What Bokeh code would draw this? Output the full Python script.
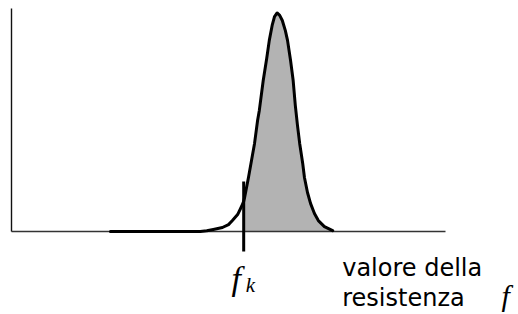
from bokeh.plotting import figure
from bokeh.models import Range1d, Label
from bokeh.embed import file_html
from bokeh.resources import INLINE

# --- data (x = resistance value, y = probability density) ---
curve_x = [22.8, 43.5, 45.0, 46.5, 48.6, 50.0, 50.9, 52.1, 53.0, 53.5, 53.7, 54.6, 55.3,
           56.0, 56.7, 57.1, 58.0, 58.8, 59.4, 60.1, 60.6, 61.2, 61.8, 62.4, 63.1, 63.6,
           64.3, 64.9, 65.4, 65.9, 66.4, 67.1, 67.5, 68.2, 68.9, 69.8, 70.7, 72.1, 74.0]
curve_y = [0.0, 0.0, 0.3, 0.9, 1.8, 3.1, 4.9, 7.6, 11.2, 13.5, 15.2, 24.2, 31.8,
           39.5, 49.8, 54.3, 67.7, 77.6, 85.7, 92.8, 96.4, 98.0, 96.9, 94.6, 90.1, 85.7,
           76.7, 67.7, 56.5, 47.5, 39.5, 30.5, 24.2, 17.5, 12.6, 8.1, 4.9, 2.2, 0.4]
fk = 53.5                 # characteristic value f_k
fill_tail_x = 75.1        # grey area ends slightly past the curve
fk_mark = (-9.0, 22.4)    # vertical extent of the f_k mark
x_axis_extent = (0.0, 100.0)
y_axis_extent = (0.0, 100.0)
x_label_lines = ["valore della", "resistenza"]
x_symbol = "f"
fk_symbol = ("f", "k")

p = figure(width=518, height=314, output_backend="svg", toolbar_location=None,
           x_range=Range1d(-2.535, 116.82), y_range=Range1d(-37.22, 103.59),
           min_border=0)
p.outline_line_color = None
p.grid.visible = False
p.axis.visible = False
p.background_fill_color = "white"
p.border_fill_color = "white"

# shaded area to the right of f_k
i0 = curve_x.index(fk)
fx = curve_x[i0:] + [fill_tail_x]
fy = curve_y[i0:] + [0.0]
p.varea(x=fx, y1=[0.0] * len(fx), y2=fy, fill_color="#b3b3b3")

# axis lines
p.segment(x0=[x_axis_extent[0]], y0=[0.0], x1=[x_axis_extent[1]], y1=[0.0],
          line_color="#333333", line_width=1.3)
p.segment(x0=[0.0], y0=[y_axis_extent[0]], x1=[0.0], y1=[y_axis_extent[1]],
          line_color="#111111", line_width=1.4)

# density curve
p.line(curve_x, curve_y, line_color="black", line_width=3, line_join="round", line_cap="round")

# f_k mark
p.segment(x0=[fk], y0=[fk_mark[0]], x1=[fk], y1=[fk_mark[1]], line_color="black", line_width=3)

# labels
p.add_layout(Label(x=76.2, y=-16.2, text=x_label_lines[0], text_font="DejaVu Sans",
                   text_font_size="24px", text_color="black", text_baseline="alphabetic"))
p.add_layout(Label(x=76.2, y=-29.6, text=x_label_lines[1], text_font="DejaVu Sans",
                   text_font_size="24px", text_color="black", text_baseline="alphabetic"))
p.add_layout(Label(x=112.9, y=-28.6, text=x_symbol, text_font="Liberation Serif",
                   text_font_style="italic", text_font_size="30px", text_color="black",
                   text_baseline="alphabetic"))
p.add_layout(Label(x=50.7, y=-21.1, text=fk_symbol[0], text_font="Liberation Serif",
                   text_font_style="italic", text_font_size="34px", text_color="black",
                   text_baseline="alphabetic"))
p.add_layout(Label(x=54.0, y=-23.8, text=fk_symbol[1], text_font="Liberation Serif",
                   text_font_style="italic", text_font_size="21px", text_color="black",
                   text_baseline="alphabetic"))

open("out.html", "w").write(file_html(p, INLINE))
